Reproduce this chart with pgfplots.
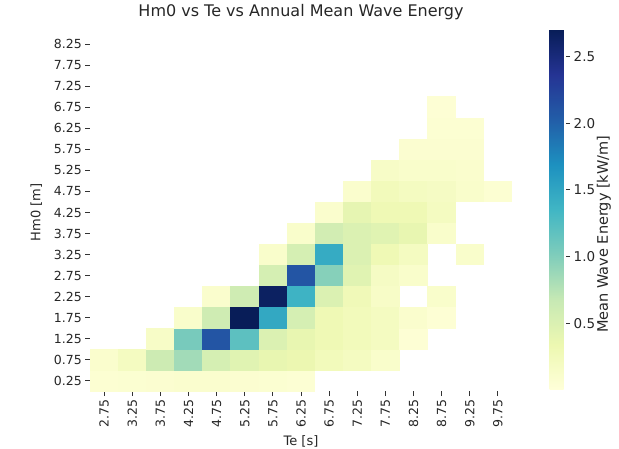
\documentclass[border=0pt]{standalone}
\usepackage{pgfplots}
\pgfplotsset{compat=1.18}
\usepackage{fontspec}
\setmainfont{DejaVu Sans}
\pgfdeclareplotmark{cell}{%
  \pgfpathrectangle{\pgfpoint{-14.3bp}{-10.75bp}}{\pgfpoint{28.6bp}{21.5bp}}%
  \pgfusepathqfill}
\pgfplotsset{colormap={ylgnbu}{rgb255=(255,255,217) rgb255=(237,248,177) rgb255=(199,233,180) rgb255=(127,205,187) rgb255=(65,182,196) rgb255=(29,145,192) rgb255=(34,94,168) rgb255=(37,52,148) rgb255=(8,29,88)}}
\pgfplotstableread{
x y c
2.75 0.25 0.06
3.25 0.25 0.07
3.75 0.25 0.08
4.25 0.25 0.09
4.75 0.25 0.09
5.25 0.25 0.08
5.75 0.25 0.07
6.25 0.25 0.05
2.75 0.75 0.10
3.25 0.75 0.20
3.75 0.75 0.62
4.25 0.75 0.85
4.75 0.75 0.55
5.25 0.75 0.45
5.75 0.75 0.38
6.25 0.75 0.35
6.75 0.75 0.25
7.25 0.75 0.20
7.75 0.75 0.12
3.75 1.25 0.15
4.25 1.25 1.05
4.75 1.25 2.10
5.25 1.25 1.20
5.75 1.25 0.50
6.25 1.25 0.38
6.75 1.25 0.30
7.25 1.25 0.25
7.75 1.25 0.20
8.25 1.25 0.04
4.25 1.75 0.12
4.75 1.75 0.60
5.25 1.75 2.70
5.75 1.75 1.48
6.25 1.75 0.55
6.75 1.75 0.30
7.25 1.75 0.25
7.75 1.75 0.20
8.25 1.75 0.10
8.75 1.75 0.04
4.75 2.25 0.10
5.25 2.25 0.60
5.75 2.25 2.65
6.25 2.25 1.38
6.75 2.25 0.50
7.25 2.25 0.28
7.75 2.25 0.15
8.75 2.25 0.12
5.75 2.75 0.55
6.25 2.75 2.10
6.75 2.75 0.98
7.25 2.75 0.45
7.75 2.75 0.18
8.25 2.75 0.12
5.75 3.25 0.12
6.25 3.25 0.55
6.75 3.25 1.45
7.25 3.25 0.50
7.75 3.25 0.30
8.25 3.25 0.20
9.25 3.25 0.12
6.25 3.75 0.12
6.75 3.75 0.58
7.25 3.75 0.50
7.75 3.75 0.45
8.25 3.75 0.38
8.75 3.75 0.12
6.75 4.25 0.10
7.25 4.25 0.40
7.75 4.25 0.30
8.25 4.25 0.30
8.75 4.25 0.20
7.25 4.75 0.10
7.75 4.75 0.25
8.25 4.75 0.20
8.75 4.75 0.18
9.25 4.75 0.12
9.75 4.75 0.06
7.75 5.25 0.15
8.25 5.25 0.12
8.75 5.25 0.12
9.25 5.25 0.10
8.25 5.75 0.08
8.75 5.75 0.08
9.25 5.75 0.08
8.75 6.25 0.06
9.25 6.25 0.06
8.75 6.75 0.04
}\cells
\begin{document}
\begin{tikzpicture}[x=1bp,y=1bp]
\useasboundingbox (0,0) rectangle (619,449);
\begin{axis}[
  at={(90bp,57.5bp)}, anchor=south west,
  scale only axis, width=422bp, height=358bp,
  xmin=2.5, xmax=10, ymin=0, ymax=8.5,
  axis line style={draw=none},
  tick align=outside, xtick pos=bottom, ytick pos=left,
  major tick length=4.7bp,
  tick style={line width=1.0bp, black!80},
  xtick={2.75,3.25,3.75,4.25,4.75,5.25,5.75,6.25,6.75,7.25,7.75,8.25,8.75,9.25,9.75},
  xticklabels={2.75,3.25,3.75,4.25,4.75,5.25,5.75,6.25,6.75,7.25,7.75,8.25,8.75,9.25,9.75},
  ytick={0.25,0.75,1.25,1.75,2.25,2.75,3.25,3.75,4.25,4.75,5.25,5.75,6.25,6.75,7.25,7.75,8.25},
  yticklabels={0.25,0.75,1.25,1.75,2.25,2.75,3.25,3.75,4.25,4.75,5.25,5.75,6.25,6.75,7.25,7.75,8.25},
  xticklabel style={rotate=90, anchor=east, font=\fontsize{12.5bp}{14bp}\selectfont, text=black!85},
  yticklabel style={font=\fontsize{12.5bp}{14bp}\selectfont, text=black!85},
  title={Hm0 vs Te vs Annual Mean Wave Energy},
  title style={at={(axis description cs:0.5,1)}, anchor=center, yshift=15bp, font=\fontsize{16bp}{18bp}\selectfont, text=black!85},
  xlabel={Te [s]},
  xlabel style={at={(axis description cs:0.5,0)}, anchor=center, yshift=-50bp, font=\fontsize{13bp}{15bp}\selectfont, text=black!85},
  ylabel={Hm0 [m]},
  ylabel style={at={(axis description cs:-0.127,0.5)}, anchor=center, font=\fontsize{13bp}{15bp}\selectfont, text=black!85},
  colormap name=ylgnbu,
  point meta min=0, point meta max=2.7,
  colorbar,
  colorbar style={
    at={(parent axis.south east)}, anchor=south west,
    xshift=29bp, yshift=1.5bp,
    scale only axis, width=16bp, height=360bp,
    axis line style={draw=none},
    ytick={0.5,1,1.5,2,2.5},
    yticklabels={0.5,1.0,1.5,2.0,2.5},
    tick align=outside, ytick pos=right,
    major tick length=4.7bp,
    tick style={line width=1.0bp, black!80},
    yticklabel style={font=\fontsize{13.5bp}{15bp}\selectfont, text=black!85},
    ylabel={Mean Wave Energy [kW/m]},
    ylabel style={at={(axis description cs:3.4,0.433)}, anchor=center, font=\fontsize{14.5bp}{16bp}\selectfont, text=black!85},
  },
]
\addplot[scatter, only marks, mark=cell, point meta=explicit,
  scatter/use mapped color={draw=none, fill=mapped color}]
  table[x=x, y=y, meta=c] {\cells};
\end{axis}
\end{tikzpicture}
\end{document}
